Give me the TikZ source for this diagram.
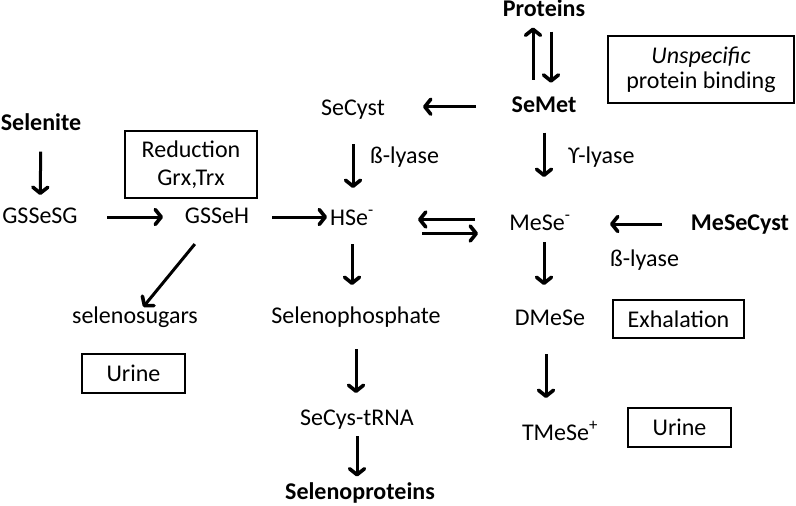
\documentclass[tikz,border=0pt]{standalone}
\usepackage{fontspec}
\setmainfont{Carlito}
\usetikzlibrary{arrows.meta}
\tikzset{>={Straight Barb[length=6pt,width=15pt,line width=3.6pt,round]},
	arr/.style={->, line width=3pt},
	lbl/.style={% plain compound names, placed on their baseline
		font=\fontsize{24}{28}\selectfont,
		inner sep=0pt,
		text height=17pt,
		text depth=5pt,
		anchor=base
	},
	bld/.style={lbl, font=\fontsize{24}{28}\selectfont\bfseries},
	box/.style={
		draw, rectangle,
		line width=1.5pt,
		inner sep=0pt,
		align=center,
		font=\fontsize{24}{28}\selectfont
	}
}
\begin{document}
\begin{tikzpicture}[x=1pt,y=-1pt]
	\useasboundingbox (0,0) rectangle (796,506);
	\node [bld] (prot) at (544,16.5) {Proteins};
	\node [bld] (semet) at (544,112.7) {SeMet};
	\node [box, minimum width=186pt, minimum height=67pt] (unspec) at (701,69.5) {\textit{Unspecific}\\[-3pt]protein binding};
	\node [lbl] (secyst) at (353,115) {SeCyst};
	\node [bld] (selenite) at (41,130.7) {Selenite};
	\node [box, minimum width=132pt, minimum height=67pt] (reduc) at (191,164.5) {Reduction\\Grx,Trx};
	\node [lbl] (gssesg) at (40,223) {GSSeSG};
	\node [lbl] (gsseh) at (217,223) {GSSeH};
	\node [lbl] (hse) at (352,225) {HSe\textsuperscript{-}};
	\node [lbl] (mese) at (540,230) {MeSe\textsuperscript{-}};
	\node [bld] (mesecyst) at (740,230) {MeSeCyst};
	\node [lbl, anchor=base west] (blyase) at (370,163) {ß-lyase};
	\node [lbl, anchor=base west] (glyase) at (568,163) {ϒ-lyase};
	\node [lbl, anchor=base west] (blyasem) at (610,266.7) {ß-lyase};
	\node [lbl] (dmese) at (550,325) {DMeSe};
	\node [box, minimum width=131pt, minimum height=38pt] (exhal) at (678.5,319) {Exhalation};
	\node [lbl] (tmese) at (560,440) {TMeSe\textsuperscript{+}};
	\node [box, minimum width=103pt, minimum height=39pt] (urinet) at (679.5,427.5) {Urine};
	\node [lbl] (selphos) at (356,323) {Selenophosphate};
	\node [lbl] (secys) at (357,425) {SeCys-tRNA};
	\node [bld] (selprot) at (360,499.5) {Selenoproteins};
	\node [lbl] (sugars) at (135,323) {selenosugars};
	\node [box, minimum width=103pt, minimum height=39pt] (urines) at (133.5,373.5) {Urine};
	% protein incorporation
	\draw [arr, shorten <=27pt, shorten >=17pt] ([xshift=-11pt]semet.center) -- ([xshift=-11pt]prot.center);
	\draw [arr, shorten <=21pt, shorten >=24pt] ([xshift=7pt]prot.center) -- ([xshift=7pt]semet.center);
	\draw [arr, shorten <=68pt, shorten >=70pt] (semet.center) -- (semet.center -| secyst.center);
	\draw [arr, shorten <=35pt, shorten >=31pt] (secyst.center) -- (secyst.center |- hse.center);
	\draw [arr, shorten <=26pt, shorten >=47pt] (semet.center) -- (semet.center |- mese.center);
	% selenite route
	\draw [arr, shorten <=27pt, shorten >=22pt] (selenite.center) -- (gssesg.center);
	\draw [arr, shorten <=67pt, shorten >=54pt] (gssesg.center) -- (gsseh.center);
	\draw [arr, shorten <=55pt, shorten >=25pt] (gsseh.center) -- (gsseh.center -| hse.center);
	\draw [arr, shorten <=35pt, shorten >=13pt] (gsseh.center) -- (sugars.center);
	% HSe- / MeSe- exchange
	\draw [arr, shorten <=65pt, shorten >=66pt] ([yshift=4.5pt]mese.center) -- ([yshift=4.5pt]mese.center -| hse.center);
	\draw [arr, shorten <=70pt, shorten >=62pt] ([yshift=-9.5pt]mese.center -| hse.center) -- ([yshift=-9.5pt]mese.center);
	\draw [arr, shorten <=78pt, shorten >=70pt] (mesecyst.center) -- (mese.center);
	% methylation
	\draw [arr, shorten <=18pt, shorten >=34pt] (semet.center |- mese.center) -- (semet.center |- dmese.center);
	\draw [arr, shorten <=35pt, shorten >=36pt] ([xshift=-4pt]dmese.center) -- ([xshift=-4pt]dmese.center |- tmese.center);
	% selenoprotein synthesis
	\draw [arr, shorten <=25pt, shorten >=32pt] (hse.center) -- (hse.center |- selphos.center);
	\draw [arr, shorten <=32pt, shorten >=26pt] (selphos.center) -- (selphos.center |- secys.center);
	\draw [arr, shorten <=17pt, shorten >=17pt] (secys.center) -- (secys.center |- selprot.center);
\end{tikzpicture}
\end{document}
